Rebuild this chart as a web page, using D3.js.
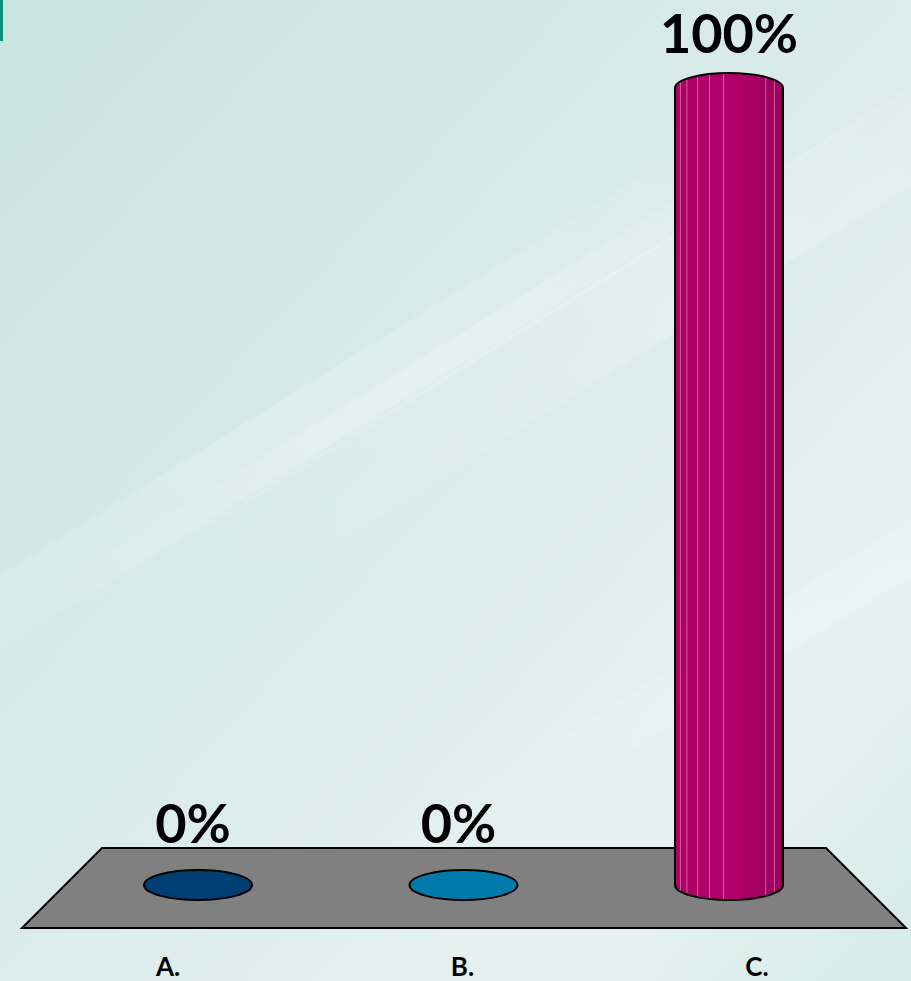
<!DOCTYPE html>
<html>
<head>
<meta charset="utf-8">
<script src="https://cdn.jsdelivr.net/npm/d3@7"></script>
<style>
  html, body { margin: 0; padding: 0; overflow: hidden; }
  svg { display: block; }
</style>
</head>
<body>
<script>
const categories = ['A.', 'B.', 'C.'];
const values = [0, 0, 100];
const colors = ['#003f74', '#007aab', '#b5006b'];

const W = 911, H = 981;
const svg = d3.select('body').append('svg').attr('width', W).attr('height', H);
const defs = svg.append('defs');

// background
const bg = defs.append('linearGradient').attr('id', 'bg')
  .attr('x1', 0).attr('y1', 0).attr('x2', 1).attr('y2', 1);
bg.append('stop').attr('offset', 0).attr('stop-color', '#c9e4df');
bg.append('stop').attr('offset', 0.5).attr('stop-color', '#dbecea');
bg.append('stop').attr('offset', 0.8).attr('stop-color', '#e6f2f0');
bg.append('stop').attr('offset', 1).attr('stop-color', '#d6ebe7');
svg.append('rect').attr('width', W).attr('height', H).attr('fill', 'url(#bg)');

// soft diagonal streaks
const streak = defs.append('linearGradient').attr('id', 'streak')
  .attr('x1', 0).attr('y1', 1).attr('x2', 1).attr('y2', 0);
streak.append('stop').attr('offset', 0).attr('stop-color', '#fff').attr('stop-opacity', 0);
streak.append('stop').attr('offset', 0.5).attr('stop-color', '#fff').attr('stop-opacity', 0.18);
streak.append('stop').attr('offset', 1).attr('stop-color', '#fff').attr('stop-opacity', 0);
[[-200, 700, 120], [0, 620, 60], [150, 560, 160], [300, 900, 90]].forEach(([x, y, w]) => {
  svg.append('path')
    .attr('d', `M${x},${y} L${x + 900},${y - 560} L${x + 900 + w},${y - 560} L${x + w},${y} Z`)
    .attr('fill', 'url(#streak)');
});

svg.append('rect').attr('x', 0).attr('y', 0).attr('width', 3).attr('height', 41).attr('fill', '#0f8f7f');

// scales
const x = d3.scalePoint().domain(categories).range([198, 729]);
const xLab = d3.scalePoint().domain(categories).range([168, 757]);
const y = d3.scaleLinear().domain([0, 100]).range([885, 88]);
const rx = 54, ry = 15;

// floor
svg.append('path')
  .attr('d', `M102,848 L826,848 L906,928 L22,928 Z`)
  .attr('fill', '#808080').attr('stroke', '#000').attr('stroke-width', 2);

// bar gradients
colors.forEach((c, i) => {
  const g = defs.append('linearGradient').attr('id', 'bar' + i).attr('x1', 0).attr('x2', 1);
  g.append('stop').attr('offset', 0).attr('stop-color', d3.color(c).darker(0.15));
  g.append('stop').attr('offset', 0.45).attr('stop-color', c);
  g.append('stop').attr('offset', 1).attr('stop-color', d3.color(c).darker(0.45));
});

const stripeFrac = [0.05, 0.11, 0.21, 0.32, 0.45, 0.84, 0.92];

categories.forEach((cat, i) => {
  const cx = x(cat), yb = y(0), yt = y(values[i]);
  const x0 = cx - rx, x1 = cx + rx;
  const g = svg.append('g');
  if (values[i] === 0) {
    g.append('ellipse').attr('cx', cx).attr('cy', yb).attr('rx', rx).attr('ry', ry)
      .attr('fill', colors[i]).attr('stroke', '#000').attr('stroke-width', 2);
  } else {
    const d = `M${x0},${yt} L${x0},${yb} A${rx},${ry} 0 0 0 ${x1},${yb} L${x1},${yt} A${rx},${ry} 0 0 0 ${x0},${yt} Z`;
    g.append('path').attr('d', d).attr('fill', `url(#bar${i})`);
    const clipId = 'clip' + i;
    defs.append('clipPath').attr('id', clipId).append('path').attr('d', d);
    g.append('g').attr('clip-path', `url(#${clipId})`)
      .selectAll('line').data(stripeFrac).join('line')
      .attr('x1', f => x0 + f * 2 * rx).attr('x2', f => x0 + f * 2 * rx)
      .attr('y1', yt - ry).attr('y2', yb + ry)
      .attr('stroke', '#e48ab8').attr('stroke-width', 1).attr('opacity', 0.7);
    g.append('path').attr('d', d).attr('fill', 'none')
      .attr('stroke', '#000').attr('stroke-width', 2);
  }
  g.append('text')
    .attr('x', cx - (values[i] === 0 ? 5 : 0)).attr('y', values[i] === 0 ? 843 : 53)
    .attr('text-anchor', 'middle')
    .attr('font-family', 'Lato, sans-serif').attr('font-weight', 'bold')
    .attr('font-size', 54).attr('fill', '#000')
    .text(values[i] + '%');
});

svg.selectAll('text.cat').data(categories).join('text').attr('class', 'cat')
  .attr('x', d => xLab(d)).attr('y', 976)
  .attr('text-anchor', 'middle')
  .attr('font-family', 'Lato, sans-serif').attr('font-weight', 'bold')
  .attr('font-size', 26).attr('fill', '#000')
  .text(d => d);
</script>
</body>
</html>
